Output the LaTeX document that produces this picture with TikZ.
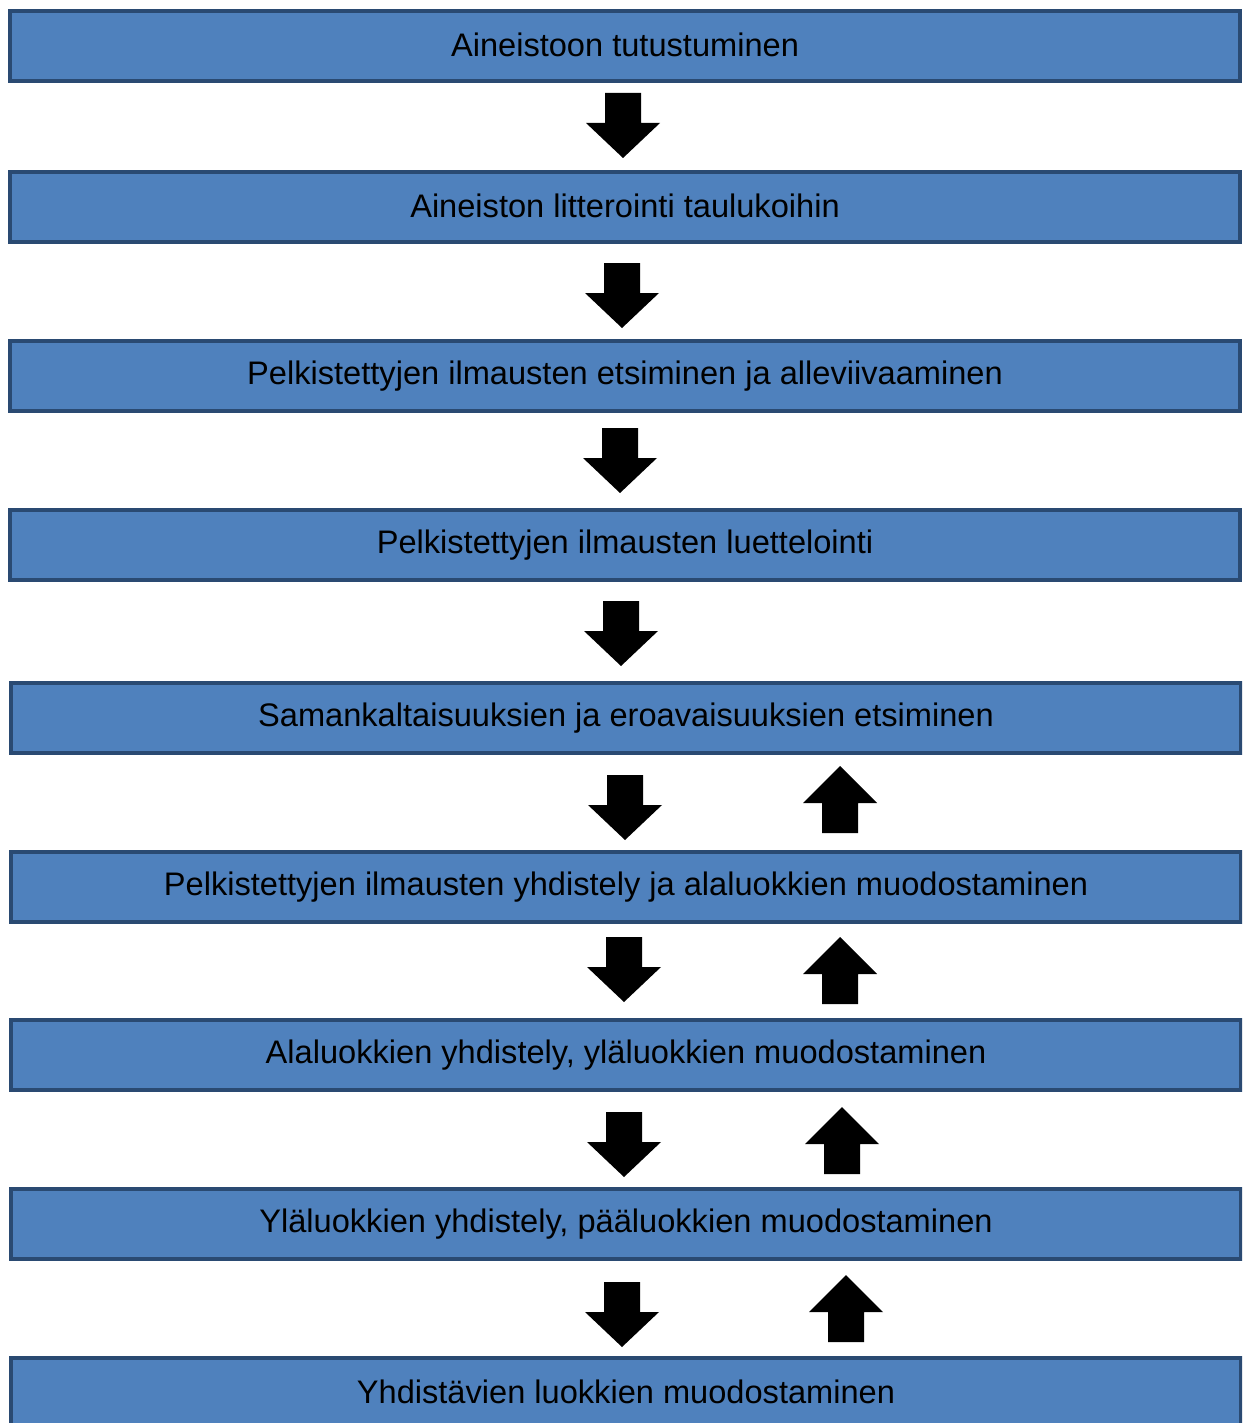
\documentclass[tikz,border=0pt]{standalone}
\usepackage{fontspec}
\setmainfont{Liberation Sans}
\begin{document}
\begin{tikzpicture}[x=0.5pt,y=-0.5pt,
  stepbox/.style={draw=boxedge, fill=boxfill, line width=2pt, minimum width=615pt, minimum height=35pt, inner sep=0pt, font=\fontsize{16.3}{19}\selectfont, text=black},
  blockarrow/.style={fill=black, draw=none}]
\definecolor{boxfill}{HTML}{4F81BD}
\definecolor{boxedge}{HTML}{2A4A72}
\useasboundingbox (0,0) rectangle (1242,1423);
\clip (0,0) rectangle (1242,1423);
\node[stepbox] (b1) at (625,46) {\raisebox{1.5pt}{Aineistoon tutustuminen}};
\node[stepbox] (b2) at (625,207) {\raisebox{1.5pt}{Aineiston litterointi taulukoihin}};
\node[stepbox] (b3) at (625,376) {\raisebox{1.5pt}{Pelkistettyjen ilmausten etsiminen ja alleviivaaminen}};
\node[stepbox] (b4) at (625,545) {\raisebox{1.5pt}{Pelkistettyjen ilmausten luettelointi}};
\node[stepbox] (b5) at (626,718) {\raisebox{1.5pt}{Samankaltaisuuksien ja eroavaisuuksien etsiminen}};
\node[stepbox] (b6) at (626,887) {\raisebox{1.5pt}{Pelkistettyjen ilmausten yhdistely ja alaluokkien muodostaminen}};
\node[stepbox] (b7) at (626,1055) {\raisebox{1.5pt}{Alaluokkien yhdistely, yläluokkien muodostaminen}};
\node[stepbox] (b8) at (626,1224) {\raisebox{1.5pt}{Yläluokkien yhdistely, pääluokkien muodostaminen}};
\node[stepbox] (b9) at (626,1393) {\raisebox{1.5pt}{Yhdistävien luokkien muodostaminen}};
% down arrows: top centre given
\foreach \x/\y in {623/93, 622/263, 620/428, 621/601, 625/775, 624/937, 624/1112, 622/1282}{
  \fill[blockarrow] (\x-18,\y) -- (\x+18,\y) -- (\x+18,\y+30) -- (\x+37,\y+30) -- (\x,\y+65) -- (\x-37,\y+30) -- (\x-18,\y+30) -- cycle;
}
% up arrows: tip given
\foreach \x/\y in {840/766, 840/937, 842/1107, 846/1275}{
  \fill[blockarrow] (\x,\y) -- (\x+37,\y+37) -- (\x+18,\y+37) -- (\x+18,\y+67) -- (\x-18,\y+67) -- (\x-18,\y+37) -- (\x-37,\y+37) -- cycle;
}
\end{tikzpicture}
\end{document}
